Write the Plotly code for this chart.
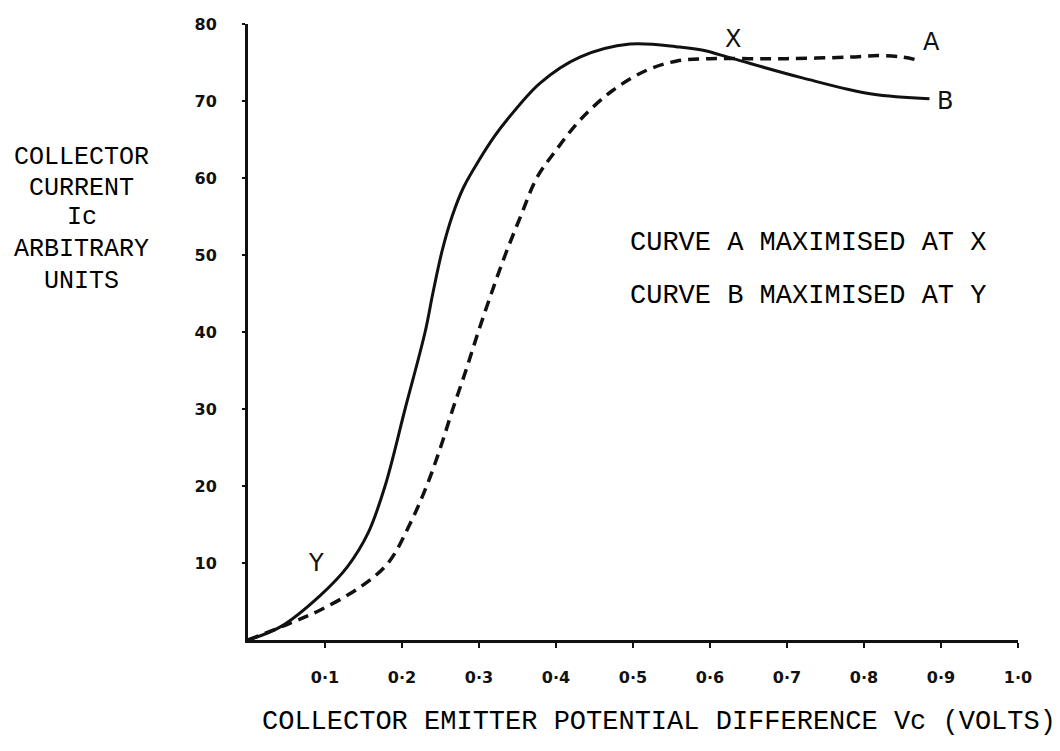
import plotly.graph_objects as go

# Collector current vs collector-emitter voltage
curve_a_v = [0, 0.055, 0.094, 0.146, 0.182, 0.21, 0.232, 0.25, 0.266, 0.283, 0.299, 0.316,
             0.334, 0.354, 0.375, 0.4, 0.431, 0.474, 0.518, 0.557, 0.6, 0.65, 0.7, 0.78,
             0.82, 0.85, 0.87]
curve_a_ic = [0, 2.2, 3.9, 6.9, 10.0, 15.0, 20.0, 25.0, 30.0, 35.0, 40.0, 45.0,
              50.0, 55.0, 60.0, 63.6, 67.5, 71.4, 74.0, 75.2, 75.5, 75.5, 75.5, 75.7,
              75.9, 75.7, 75.3]

curve_b_v = [0, 0.042, 0.094, 0.129, 0.156, 0.178, 0.204, 0.23, 0.24, 0.252, 0.265, 0.28,
             0.30, 0.32, 0.336, 0.379, 0.431, 0.496, 0.561, 0.591, 0.63, 0.72, 0.81, 0.885]
curve_b_ic = [0, 1.7, 5.8, 9.5, 13.9, 20.0, 30.0, 40.0, 45.0, 50.5, 55.0, 58.8,
              62.3, 65.4, 67.5, 72.3, 75.7, 77.4, 77.0, 76.6, 75.5, 73.0, 70.9, 70.3]

x_ticks = [0.1, 0.2, 0.3, 0.4, 0.5, 0.6, 0.7, 0.8, 0.9, 1.0]
x_tick_text = ["0·1", "0·2", "0·3", "0·4", "0·5", "0·6", "0·7", "0·8", "0·9", "1·0"]
y_ticks = [10, 20, 30, 40, 50, 60, 70, 80]
y_tick_text = ["10", "20", "30", "40", "50", "60", "70", "80"]

TYPE = "Liberation Mono"
HAND = "DejaVu Sans"
INK = "#111111"
Y_MAX = 80.0

fig = go.Figure()
fig.add_trace(go.Scatter(
    x=curve_a_v, y=curve_a_ic, mode="lines", line_shape="spline",
    line=dict(color=INK, width=3.5, dash="11px,7px"), showlegend=False))
fig.add_trace(go.Scatter(
    x=curve_b_v, y=curve_b_ic, mode="lines", line_shape="spline",
    line=dict(color=INK, width=3), showlegend=False))

annotations = []
# curve letters
for txt, x, y in [("X", 0.63, 78.0), ("A", 0.888, 77.6), ("B", 0.905, 70.0), ("Y", 0.088, 10.0)]:
    annotations.append(dict(x=x, y=y, xref="x", yref="y", text=txt, showarrow=False,
                            font=dict(family=HAND, size=24, color=INK)))

# y-axis label, typed line by line (paper coordinates so it can sit outside the axes)
for txt, y in [("COLLECTOR", 62.7), ("CURRENT", 58.7), ("Ic", 54.9),
               ("ARBITRARY", 50.7), ("UNITS", 46.6)]:
    annotations.append(dict(x=-0.216, y=y / Y_MAX, xref="paper", yref="paper",
                            xanchor="center", yanchor="middle", text=txt, showarrow=False,
                            font=dict(family=TYPE, size=25, color="black")))

# notes
for txt, y in [("CURVE A MAXIMISED AT X", 51.6), ("CURVE B MAXIMISED AT Y", 44.7)]:
    annotations.append(dict(x=0.493, y=y, xref="x", yref="y", xanchor="left",
                            yanchor="middle", text=txt, showarrow=False,
                            font=dict(family=TYPE, size=27, color="black")))

# x-axis title
annotations.append(dict(x=1.052, y=-10.6 / Y_MAX, xref="paper", yref="paper",
                        xanchor="right", yanchor="middle",
                        text="COLLECTOR EMITTER POTENTIAL DIFFERENCE Vc (VOLTS)",
                        showarrow=False, font=dict(family=TYPE, size=27, color="black")))

fig.update_layout(
    width=1060, height=751,
    margin=dict(l=248, r=42, t=24, b=111),
    paper_bgcolor="white", plot_bgcolor="white",
    annotations=annotations,
    xaxis=dict(range=[0, 1.0], tickvals=x_ticks, ticktext=x_tick_text,
               showgrid=False, zeroline=False, showline=True, linecolor=INK, linewidth=3,
               ticks="outside", ticklen=5, tickwidth=2, tickcolor=INK,
               ticklabelstandoff=16,
               tickfont=dict(family=HAND, size=16, color=INK, weight="bold")),
    yaxis=dict(range=[0, Y_MAX], tickvals=y_ticks, ticktext=y_tick_text,
               showgrid=False, zeroline=False, showline=True, linecolor=INK, linewidth=3,
               ticks="outside", ticklen=3, tickwidth=2, tickcolor=INK,
               ticklabelstandoff=22,
               tickfont=dict(family=HAND, size=16, color=INK, weight="bold")),
)

fig.write_html("out.html")
